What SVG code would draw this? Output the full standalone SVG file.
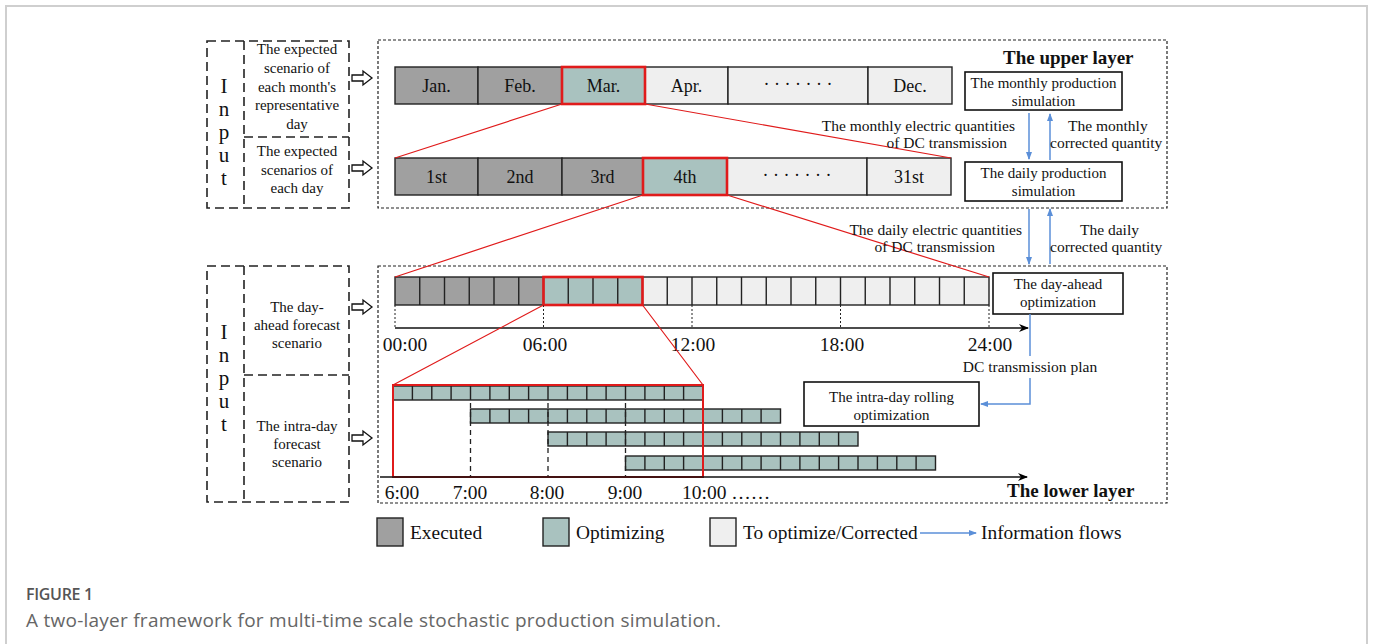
<svg xmlns="http://www.w3.org/2000/svg" width="1373" height="644" viewBox="0 0 1373 644">
<defs>
<marker id="blk" markerWidth="10" markerHeight="8" refX="9" refY="4" orient="auto" markerUnits="userSpaceOnUse"><path d="M0,0 L10,4 L0,8 L3,4 Z" fill="#000"/></marker>
<marker id="blu" markerWidth="8" markerHeight="6" refX="7" refY="3" orient="auto" markerUnits="userSpaceOnUse"><path d="M0,0 L8,3 L0,6 Z" fill="#5b8fd8"/></marker>
<style>
.t{font-family:"Liberation Serif","Times New Roman",serif;fill:#111;}
.s15{font-size:15px;}
.s155{font-size:15.5px;}
.s18{font-size:18px;}
.s19{font-size:19.5px;}
.s21{font-size:21px;}
.lg{font-size:19.4px;}
.b{font-weight:bold;font-size:19px;}
.m{text-anchor:middle;}
.e{text-anchor:end;}
.inbox{fill:none;stroke:#222;stroke-width:1.6;stroke-dasharray:9,5;}
.layer{fill:none;stroke:#222;stroke-width:1.2;stroke-dasharray:3,2;}
.ex{fill:#a0a0a0;}
.op{fill:#a9c2bf;}
.to{fill:#efefef;}
.cell{stroke:#222;stroke-width:1.4;}
.red{fill:none;stroke:#e01b1b;stroke-width:2.6;}
.redl{stroke:#e01b1b;stroke-width:1.2;fill:none;}
.box{fill:#fff;stroke:#111;stroke-width:1.6;}
.flow{stroke:#5b8fd8;stroke-width:1.5;fill:none;}
.hol{fill:#fff;stroke:#111;stroke-width:1.3;}
.dot{stroke:#222;stroke-width:1;stroke-dasharray:2,2;fill:none;}
.dash{stroke:#222;stroke-width:1.3;stroke-dasharray:5,4;fill:none;}
.cap{font-family:"Open Sans","Noto Sans",sans-serif;}
</style>
</defs>
<rect x="6" y="6" width="1361" height="700" fill="#fff" stroke="#cfcfcf" stroke-width="2"/>

<!-- Input boxes -->
<g id="input-upper">
<rect class="inbox" x="207" y="41" width="142" height="167"/>
<path class="inbox" d="M244,41 V208 M244,137 H349"/>
<text class="t s21 m" x="224" y="93">I</text>
<text class="t s21 m" x="224" y="116">n</text>
<text class="t s21 m" x="224" y="139">p</text>
<text class="t s21 m" x="224" y="162">u</text>
<text class="t s21 m" x="224" y="185">t</text>
<text class="t s15 m" x="297" y="54">The expected</text>
<text class="t s15 m" x="297" y="73">scenario of</text>
<text class="t s15 m" x="297" y="91.5">each month's</text>
<text class="t s15 m" x="297" y="110">representative</text>
<text class="t s15 m" x="297" y="128.5">day</text>
<text class="t s15 m" x="297" y="156">The expected</text>
<text class="t s15 m" x="297" y="174.5">scenarios of</text>
<text class="t s15 m" x="297" y="193">each day</text>
<path class="hol" d="M352,75 H363 V71 L372,78 L363,85 V81 H352 Z"/>
<path class="hol" d="M352,165 H363 V161 L372,168 L363,175 V171 H352 Z"/>
</g>

<g id="input-lower">
<rect class="inbox" x="207" y="266" width="142" height="236"/>
<path class="inbox" d="M244,266 V502 M244,375 H349"/>
<text class="t s21 m" x="224" y="339">I</text>
<text class="t s21 m" x="224" y="362">n</text>
<text class="t s21 m" x="224" y="385">p</text>
<text class="t s21 m" x="224" y="408">u</text>
<text class="t s21 m" x="224" y="431">t</text>
<text class="t s15 m" x="297" y="312">The day-</text>
<text class="t s15 m" x="297" y="330">ahead forecast</text>
<text class="t s15 m" x="297" y="348">scenario</text>
<text class="t s15 m" x="297" y="431">The intra-day</text>
<text class="t s15 m" x="297" y="449">forecast</text>
<text class="t s15 m" x="297" y="467">scenario</text>
<path class="hol" d="M352,304 H363 V300 L372,307 L363,314 V310 H352 Z"/>
<path class="hol" d="M352,435 H363 V431 L372,438 L363,445 V441 H352 Z"/>
</g>

<!-- Upper layer -->
<g id="upper-layer">
<rect class="layer" x="378" y="40" width="789" height="168"/>
<text class="t b" x="1003" y="64">The upper layer</text>
</g>

<g id="month-bar">
<rect class="ex cell" x="395" y="67" width="83" height="37"/>
<rect class="ex cell" x="478" y="67" width="84" height="37"/>
<rect class="op cell" x="562" y="67" width="83" height="37"/>
<rect class="to cell" x="645" y="67" width="83" height="37"/>
<rect class="to cell" x="728" y="67" width="140" height="37"/>
<rect class="to cell" x="868" y="67" width="84" height="37"/>
<rect class="red" x="562" y="67" width="83" height="37"/>
<text class="t s18 m" x="436.5" y="92">Jan.</text>
<text class="t s18 m" x="520" y="92">Feb.</text>
<text class="t s18 m" x="603.5" y="92">Mar.</text>
<text class="t s18 m" x="686.5" y="92">Apr.</text>
<text class="t s18 m" x="798" y="90">· · · · · · ·</text>
<text class="t s18 m" x="910" y="92">Dec.</text>
</g>

<g id="day-bar">
<rect class="ex cell" x="395" y="158" width="83" height="37"/>
<rect class="ex cell" x="478" y="158" width="84" height="37"/>
<rect class="ex cell" x="562" y="158" width="81" height="37"/>
<rect class="op cell" x="643" y="158" width="84" height="37"/>
<rect class="to cell" x="727" y="158" width="140" height="37"/>
<rect class="to cell" x="867" y="158" width="84" height="37"/>
<rect class="red" x="643" y="158" width="84" height="37"/>
<text class="t s18 m" x="436.5" y="183">1st</text>
<text class="t s18 m" x="520" y="183">2nd</text>
<text class="t s18 m" x="602.5" y="183">3rd</text>
<text class="t s18 m" x="685" y="183">4th</text>
<text class="t s18 m" x="797" y="181">· · · · · · ·</text>
<text class="t s18 m" x="909" y="183">31st</text>
</g>

<g id="monthly-sim">
<rect class="box" x="965" y="72" width="157" height="38"/>
<text class="t s15 m" x="1043.5" y="88">The monthly production</text>
<text class="t s15 m" x="1043.5" y="106">simulation</text>
</g>
<g id="daily-sim">
<rect class="box" x="965" y="162" width="157" height="39"/>
<text class="t s15 m" x="1043.5" y="178">The daily production</text>
<text class="t s15 m" x="1043.5" y="196">simulation</text>
</g>

<!-- Lower layer -->
<g id="lower-layer">
<rect class="layer" x="378" y="266" width="789" height="237"/>
<text class="t b" x="1007" y="497">The lower layer</text>
</g>

<g id="hour-bar">
<rect class="ex" x="395" y="277" width="148.5" height="28"/>
<rect class="op" x="543.5" y="277" width="99" height="28"/>
<rect class="to" x="642.5" y="277" width="346.5" height="28"/>
<path class="cell" fill="none" d="M419.75,277V305 M444.5,277V305 M469.25,277V305 M494,277V305 M518.75,277V305 M543.5,277V305 M568.25,277V305 M593,277V305 M617.75,277V305 M642.5,277V305 M667.25,277V305 M692,277V305 M716.75,277V305 M741.5,277V305 M766.25,277V305 M791,277V305 M815.75,277V305 M840.5,277V305 M865.25,277V305 M890,277V305 M914.75,277V305 M939.5,277V305 M964.25,277V305"/>
<rect class="cell" fill="none" x="395" y="277" width="594" height="28"/>
<rect class="red" x="543.5" y="277" width="99" height="28"/>
<path class="dot" d="M395,305V328 M543.5,305V328 M692,305V328 M840.5,305V328 M989,305V328"/>
<path d="M395,328 H1028" stroke="#111" stroke-width="1.4" marker-end="url(#blk)"/>
<text class="t s19 m" x="405" y="351">00:00</text>
<text class="t s19 m" x="545" y="351">06:00</text>
<text class="t s19 m" x="693" y="351">12:00</text>
<text class="t s19 m" x="842" y="351">18:00</text>
<text class="t s19 m" x="990" y="351">24:00</text>
</g>

<g id="rolling">
<rect class="op" x="393" y="386" width="310" height="14"/>
<rect class="op" x="470.5" y="409" width="310" height="14"/>
<rect class="op" x="548" y="432" width="310" height="14"/>
<rect class="op" x="625.5" y="456" width="310" height="14"/>
<path class="cell" fill="none" d="M412.4,386V400 M431.8,386V400 M451.1,386V400 M470.5,386V400 M489.9,386V400 M509.3,386V400 M528.6,386V400 M548,386V400 M567.4,386V400 M586.8,386V400 M606.1,386V400 M625.5,386V400 M644.9,386V400 M664.3,386V400 M683.6,386V400"/>
<path class="cell" fill="none" d="M489.9,409V423 M509.3,409V423 M528.6,409V423 M548,409V423 M567.4,409V423 M586.8,409V423 M606.1,409V423 M625.5,409V423 M644.9,409V423 M664.3,409V423 M683.6,409V423 M703,409V423 M722.4,409V423 M741.8,409V423 M761.1,409V423"/>
<path class="cell" fill="none" d="M567.4,432V446 M586.8,432V446 M606.1,432V446 M625.5,432V446 M644.9,432V446 M664.3,432V446 M683.6,432V446 M703,432V446 M722.4,432V446 M741.8,432V446 M761.1,432V446 M780.5,432V446 M799.9,432V446 M819.3,432V446 M838.6,432V446"/>
<path class="cell" fill="none" d="M644.9,456V470 M664.3,456V470 M683.6,456V470 M703,456V470 M722.4,456V470 M741.8,456V470 M761.1,456V470 M780.5,456V470 M799.9,456V470 M819.3,456V470 M838.6,456V470 M858,456V470 M877.4,456V470 M896.8,456V470 M916.1,456V470"/>
<rect class="cell" fill="none" x="393" y="386" width="310" height="14"/>
<rect class="cell" fill="none" x="470.5" y="409" width="310" height="14"/>
<rect class="cell" fill="none" x="548" y="432" width="310" height="14"/>
<rect class="cell" fill="none" x="625.5" y="456" width="310" height="14"/>
<path class="dash" d="M470.5,403V477 M548,403V477 M625.5,403V477"/>
<rect fill="none" stroke="#e01b1b" stroke-width="2" x="393" y="385" width="310" height="92"/>
<path d="M380,477 H1027" stroke="#111" stroke-width="1.4" marker-end="url(#blk)"/>
<text class="t s19 m" x="402" y="499">6:00</text>
<text class="t s19 m" x="470" y="499">7:00</text>
<text class="t s19 m" x="547" y="499">8:00</text>
<text class="t s19 m" x="625" y="499">9:00</text>
<text class="t s19" x="682" y="499">10:00 ……</text>
</g>

<g id="day-ahead">
<rect class="box" x="993" y="273" width="130" height="41"/>
<text class="t s15 m" x="1058" y="289">The day-ahead</text>
<text class="t s15 m" x="1058" y="307">optimization</text>
</g>
<g id="intra-day">
<rect class="box" x="804" y="382" width="175" height="44"/>
<text class="t s15 m" x="891.5" y="402">The intra-day rolling</text>
<text class="t s15 m" x="891.5" y="420">optimization</text>
</g>

<!-- Connectors -->
<g id="connectors">
<path class="redl" d="M562,104 L395,158 M645,104 L951,158"/>
<path class="redl" d="M643,195 L395,277 M727,195 L989,277"/>
<path class="redl" d="M543.5,305 L393,385 M642.5,305 L703,385"/>
<path class="flow" d="M1029,113 V159" marker-end="url(#blu)"/>
<path class="flow" d="M1050,160 V114" marker-end="url(#blu)"/>
<path class="flow" d="M1029,209 V264" marker-end="url(#blu)"/>
<path class="flow" d="M1050,264 V209" marker-end="url(#blu)"/>
<path class="flow" d="M1030,314 V356"/>
<path class="flow" d="M1030,378 V404 H981" marker-end="url(#blu)"/>
<text class="t s155 e" x="1015" y="131">The monthly electric quantities</text>
<text class="t s155 e" x="1007" y="148">of DC transmission</text>
<text class="t s155" x="1068" y="131">The monthly</text>
<text class="t s155" x="1050" y="148">corrected quantity</text>
<text class="t s155 e" x="1022" y="235">The daily electric quantities</text>
<text class="t s155 e" x="995" y="252">of DC transmission</text>
<text class="t s155" x="1080" y="235">The daily</text>
<text class="t s155" x="1050" y="252">corrected quantity</text>
<text class="t s155 m" x="1030" y="372">DC transmission plan</text>
</g>

<!-- Legend -->
<g id="legend">
<rect class="ex cell" x="377" y="518" width="26" height="28"/>
<text class="t lg" x="410" y="539">Executed</text>
<rect class="op cell" x="543" y="518" width="26" height="28"/>
<text class="t lg" x="576" y="539">Optimizing</text>
<rect class="to cell" x="710" y="518" width="26" height="28"/>
<text class="t lg" x="743" y="539">To optimize/Corrected</text>
<path class="flow" d="M920,533 H976" marker-end="url(#blu)"/>
<text class="t lg" x="981" y="539">Information flows</text>
</g>

<g id="caption">
<text class="cap" x="26" y="600" font-size="16" font-weight="600" fill="#555" letter-spacing="-0.3">FIGURE 1</text>
<text class="cap" x="26" y="627" font-size="19" fill="#666" letter-spacing="0.25">A two-layer framework for multi-time scale stochastic production simulation.</text>
</g>
</svg>
